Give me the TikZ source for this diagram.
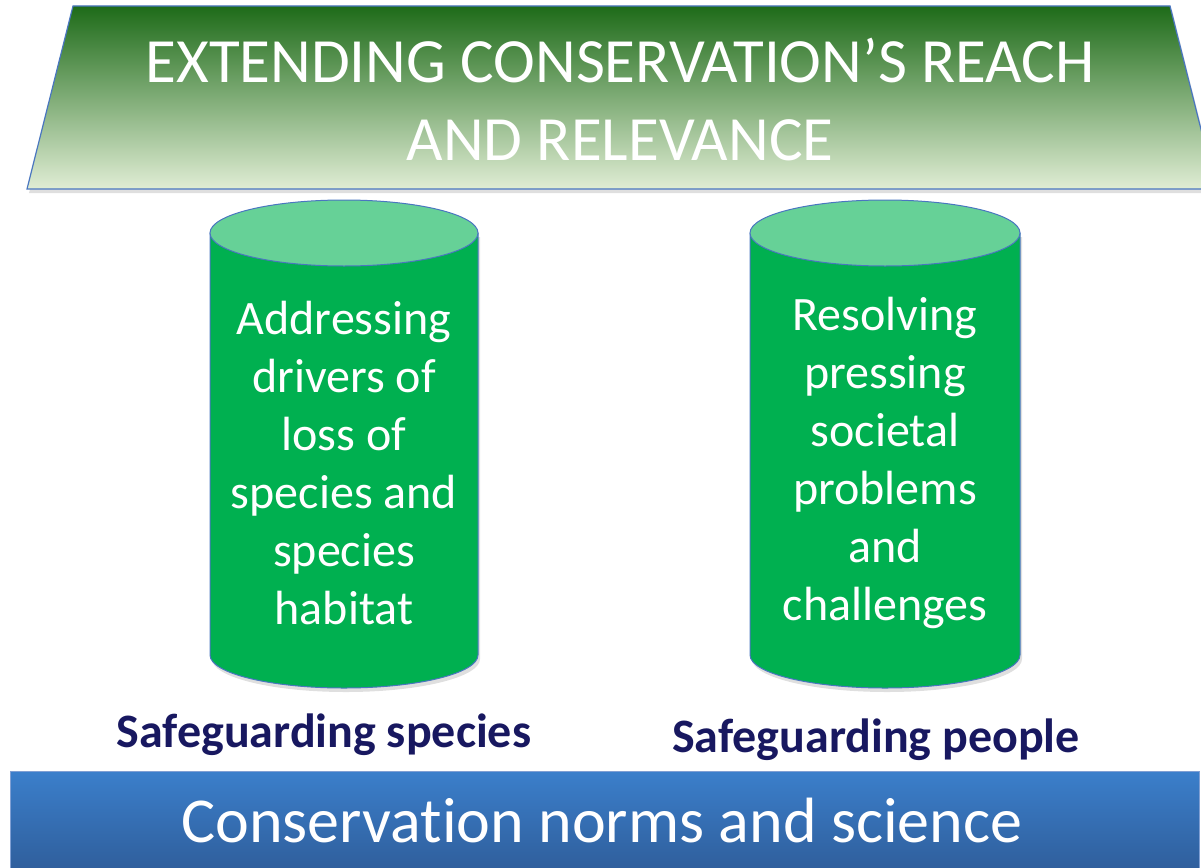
\documentclass[tikz,border=0pt]{standalone}
\usepackage{fontspec}
\setmainfont{Carlito}[Ligatures=NoCommon]
\usetikzlibrary{shadows}
\definecolor{edgeblue}{HTML}{4A76C0}
\definecolor{leafdark}{HTML}{1E6B19}
\definecolor{leafmid}{HTML}{9CB870}
\definecolor{leaflight}{HTML}{E0EDD4}
\definecolor{drumbody}{HTML}{00B050}
\definecolor{drumtop}{HTML}{66D197}
\definecolor{barlight}{HTML}{3B7FCB}
\definecolor{bardark}{HTML}{2E5B97}
\definecolor{navy}{HTML}{181860}
% drum: (centre x, top y, bottom y, radius x, radius y)
\def\drum(#1,#2,#3,#4,#5){%
  \path[fill=drumbody, draw=edgeblue, line width=1pt, drop shadow={opacity=0.25,shadow xshift=2pt,shadow yshift=-4pt}]
    (#1-#4,#2) -- (#1-#4,#3) arc (180:0:#4 and #5) -- (#1+#4,#2) -- cycle;
  \draw[fill=drumtop, draw=edgeblue, line width=1pt] (#1,#2) ellipse (#4 and #5);}
\tikzset{
  drumtext/.style={text=white, align=center, font=\fontsize{48}{58}\selectfont},
  pillarname/.style={text=navy, font=\bfseries\fontsize{48}{54}\selectfont, anchor=base},
}

\begin{document}
\begin{tikzpicture}[x=1pt,y=-1pt]
		%%%%% START %%%%%
		\useasboundingbox (0,0) rectangle (1201,867);
		
		% roof
		\shade[top color=leafdark, middle color=leafmid, bottom color=leaflight, draw=edgeblue, line width=1.2pt,
		  drop shadow={opacity=0.25,shadow xshift=2pt,shadow yshift=-4pt}]
		  (73,6) -- (1170,6) -- (1216,189) -- (27,189) -- cycle;
		\node[text=white, align=center, font=\fontsize{63}{78}\selectfont, anchor=base] (roof) at (620,160)
		  {EXTENDING CONSERVATION’S REACH\\AND RELEVANCE};
		
		% pillars
		\drum(344,233,655,134,33)
		\drum(885,233,655,135,33)
		\node[drumtext] (species) at (344,463) {Addressing\\drivers of\\loss of\\species and\\species\\habitat};
		\node[drumtext] (people) at (885,463) {Resolving\\pressing\\societal\\problems\\and\\challenges};
		
		\node[pillarname] (speciesname) at (324,747) {Safeguarding species};
		\node[pillarname] (peoplename) at (876,752) {Safeguarding people};
		
		% foundation
		\shade[top color=barlight, bottom color=bardark, draw=edgeblue!70, line width=0.8pt] (10,771) rectangle (1199,880);
		\node[text=white, font=\fontsize{64}{70}\selectfont, anchor=base] (base) at (602,842) {Conservation norms and science};
		
		%%%%% END %%%%%
	\end{tikzpicture}
\end{document}
